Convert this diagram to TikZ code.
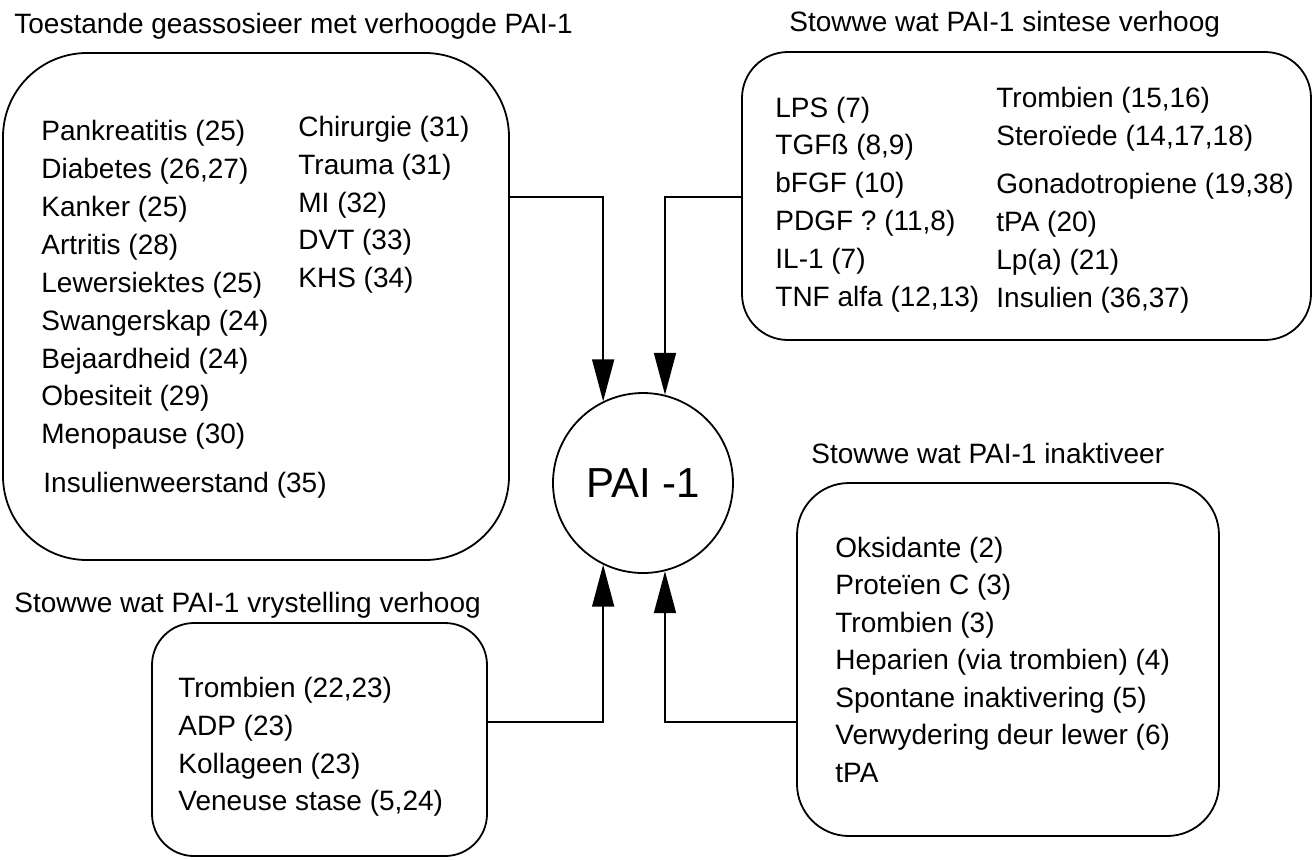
\documentclass[tikz,border=0pt]{standalone}
\usepackage{fontspec}
\setmainfont{Liberation Sans}
\usetikzlibrary{arrows.meta}

\begin{document}
\begin{tikzpicture}[x=0.5pt,y=-0.5pt,
  box/.style={draw,line width=0.9pt,inner sep=0pt},
  item/.style={anchor=west,inner sep=0pt,text height=10pt,text depth=0pt},
  >={Triangle[length=21pt,width=11pt]}]
\fontsize{14}{17}\selectfont
\useasboundingbox (0,0) rectangle (1314,859);

\node[box,circle,minimum size=90pt] (pai) at (643,483) {\fontsize{21}{25}\selectfont PAI -1};

\begin{scope}
\node[item] (tcond) at (14,23) {Toestande geassosieer met verhoogde PAI-1};
\node[box,rounded corners=42pt,minimum width=253pt,minimum height=253.5pt] (cond) at (256,306.5) {};
\foreach \y/\t [count=\i] in {130/{Pankreatitis (25)},168/{Diabetes (26,27)},206/{Kanker (25)},
  244/{Artritis (28)},282/{Lewersiektes (25)},320/{Swangerskap (24)},358/{Bejaardheid (24)},
  395/{Obesiteit (29)},433/{Menopause (30)}}
  \node[item] (cond-l\i) at (41,\y) {\t};
\node[item] (cond-l10) at (43,482) {Insulienweerstand (35)};
\foreach \y/\t [count=\i] in {126/{Chirurgie (31)},164/{Trauma (31)},202/{MI (32)},
  239/{DVT (33)},277/{KHS (34)}}
  \node[item] (cond-r\i) at (298,\y) {\t};
\end{scope}

\begin{scope}
\node[item] (tsynth) at (789,21) {Stowwe wat PAI-1 sintese verhoog};
\node[box,rounded corners=23pt,minimum width=284.5pt,minimum height=144pt] (synth) at (1026.5,196) {};
\foreach \y/\t [count=\i] in {107/{LPS (7)},144/{TGFß (8,9)},182/{bFGF (10)},
  220/{PDGF ? (11,8)},258/{IL-1 (7)},296/{TNF alfa (12,13)}}
  \node[item] (synth-l\i) at (775,\y) {\t};
\foreach \y/\t [count=\i] in {97/{Trombien (15,16)},135/{Steroïede (14,17,18)},
  183/{Gonadotropiene (19,38)},221/{tPA (20)},259/{Lp(a) (21)},297/{Insulien (36,37)}}
  \node[item] (synth-r\i) at (996,\y) {\t};
\end{scope}

\begin{scope}
\node[item] (trelease) at (14,602) {Stowwe wat PAI-1 vrystelling verhoog};
\node[box,rounded corners=21pt,minimum width=167.5pt,minimum height=116.5pt] (release) at (319.5,739.5) {};
\foreach \y/\t [count=\i] in {687/{Trombien (22,23)},725/{ADP (23)},763/{Kollageen (23)},
  800/{Veneuse stase (5,24)}}
  \node[item] (release-\i) at (178,\y) {\t};
\end{scope}

\begin{scope}
\node[item] (tinact) at (811,453) {Stowwe wat PAI-1 inaktiveer};
\node[box,rounded corners=26pt,minimum width=211pt,minimum height=176.5pt] (inact) at (1008,659.5) {};
\foreach \y/\t [count=\i] in {547/{Oksidante (2)},584/{Proteïen C (3)},622/{Trombien (3)},
  659/{Heparien (via trombien) (4)},697/{Spontane inaktivering (5)},
  734/{Verwydering deur lewer (6)},772/{tPA}}
  \node[item] (inact-\i) at (835,\y) {\t};
\end{scope}

\path[draw,line width=0.9pt,->] (cond.east |- 0,197) -| (pai.116);
\path[draw,line width=0.9pt,->] (synth.west |- 0,197) -| (pai.76);
\path[draw,line width=0.9pt,->] (release.east |- 0,722) -| (pai.-116);
\path[draw,line width=0.9pt,->] (inact.west |- 0,722) -| (pai.-76);
\end{tikzpicture}
\end{document}
